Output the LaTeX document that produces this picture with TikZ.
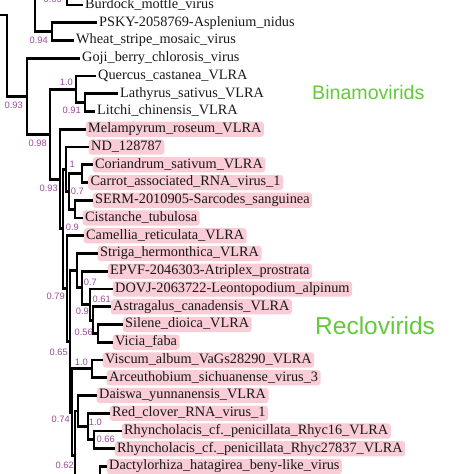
\documentclass[tikz,border=0pt]{standalone}
\usepackage{fontspec}
\setmainfont{Liberation Serif}
\newfontfamily\lsans{Liberation Sans}
\definecolor{pinkhl}{RGB}{249,204,214}
\definecolor{supcol}{RGB}{155,75,155}
\definecolor{grn}{RGB}{100,200,60}
\newcommand\mylf{\fontsize{14.3}{14.3}\selectfont}
\newcommand\mysf{\lsans\fontsize{9.3}{9.3}\selectfont}
\begin{document}
\begin{tikzpicture}[x=1pt,y=-1pt,
  br/.style={line width=2.9pt},
  lf/.style={anchor=west, font=\mylf, inner xsep=2.5pt, inner ysep=1pt, text height=10pt, text depth=3.2pt, text=black!90},
  hl/.style={lf, fill=pinkhl, rounded corners=3pt},
  sup/.style={anchor=east, font=\mysf, text=supcol, inner sep=0pt},
  grp/.style={anchor=west, text=grn, inner sep=0pt}]
\useasboundingbox (0,0) rectangle (474,474);
\clip (0,0) rectangle (474,474);
% leaves
\node[lf] (l0) at (82.5,5) {Burdock\_mottle\_virus};
\node[lf] (l1) at (96.5,22.75) {PSKY-2058769-Asplenium\_nidus};
\node[lf] (l2) at (73.5,40.5) {Wheat\_stripe\_mosaic\_virus};
\node[lf] (l3) at (79.5,58.25) {Goji\_berry\_chlorosis\_virus};
\node[lf] (l4) at (95.5,76) {Quercus\_castanea\_VLRA};
\node[lf] (l5) at (117.5,93.75) {Lathyrus\_sativus\_VLRA};
\node[lf] (l6) at (94.5,111.5) {Litchi\_chinensis\_VLRA};
\node[hl] (l7) at (85.5,129.25) {Melampyrum\_roseum\_VLRA};
\node[hl] (l8) at (88.5,147) {ND\_128787};
\node[hl] (l9) at (92.5,164.75) {Coriandrum\_sativum\_VLRA};
\node[hl] (l10) at (88,182.5) {Carrot\_associated\_RNA\_virus\_1};
\node[hl] (l11) at (92.5,200.25) {SERM-2010905-Sarcodes\_sanguinea};
\node[hl] (l12) at (82.5,218) {Cistanche\_tubulosa};
\node[hl] (l13) at (83.5,235.75) {Camellia\_reticulata\_VLRA};
\node[hl] (l14) at (97.5,253.5) {Striga\_hermonthica\_VLRA};
\node[hl] (l15) at (107.5,271.25) {EPVF-2046303-Atriplex\_prostrata};
\node[hl] (l16) at (112.5,289) {DOVJ-2063722-Leontopodium\_alpinum};
\node[hl] (l17) at (110.5,306.75) {Astragalus\_canadensis\_VLRA};
\node[hl] (l18) at (122.5,324.5) {Silene\_dioica\_VLRA};
\node[hl] (l19) at (112.5,342.25) {Vicia\_faba};
\node[hl] (l20) at (102.5,360) {Viscum\_album\_VaGs28290\_VLRA};
\node[hl] (l21) at (106.5,377.75) {Arceuthobium\_sichuanense\_virus\_3};
\node[hl] (l22) at (96.5,395.5) {Daiswa\_yunnanensis\_VLRA};
\node[hl] (l23) at (109.5,413.25) {Red\_clover\_RNA\_virus\_1};
\node[hl] (l24) at (121.5,431) {Rhyncholacis\_cf.\_penicillata\_Rhyc16\_VLRA};
\node[hl] (l25) at (114.5,448.75) {Rhyncholacis\_cf.\_penicillata\_Rhyc27837\_VLRA};
\node[hl] (l26) at (106.5,466.5) {Dactylorhiza\_hatagirea\_beny-like\_virus};
% internal nodes
\coordinate (r0) at (0,15);
\coordinate (r) at (7,15);
\coordinate (n27) at (27,96.2);
\coordinate (nC) at (50,134.2);
\coordinate (nA) at (76,89.3);
\coordinate (nB) at (85,102.6);
\coordinate (nD) at (60,179.1);
\coordinate (nE) at (63,228.9);
\coordinate (nF) at (66,169.2);
\coordinate (nF1) at (69,191.4);
\coordinate (nCC) at (82,173.6);
\coordinate (nSC) at (75,209.1);
\coordinate (nG) at (67,288.6);
\coordinate (nH) at (70,341.5);
\coordinate (nS) at (77,270.7);
\coordinate (nE2) at (82,287.9);
\coordinate (nDv) at (90,304.5);
\coordinate (nASV) at (93,320.1);
\coordinate (nSV) at (98,333.4);
\coordinate (nK) at (72,412.2);
\coordinate (nVA) at (92,368.9);
\coordinate (nL) at (75,455.5);
\coordinate (nDR) at (78,411);
\coordinate (nRC) at (88,426.6);
\coordinate (nRh) at (94,439.9);
\coordinate (nDa) at (100,500);
\coordinate (n35) at (35,-20);
\coordinate (n52) at (52,31.6);
\coordinate (n67) at (67,-6);
% branches
\draw[br] (r0) -- (r) |- (n27);
\draw[br] (n27) |- (l3.west);
\draw[br] (n27) |- (nC);
\draw[br] (nC) |- (nA);
\draw[br] (nC) |- (nD);
\draw[br] (nA) |- (l4.west);
\draw[br] (nA) |- (nB);
\draw[br] (nB) |- (l5.west);
\draw[br] (nB) |- (l6.west);
\draw[br] (nD) |- (l7.west);
\draw[br] (nD) |- (nE);
\draw[br] (nE) |- (nF);
\draw[br] (nE) |- (nG);
\draw[br] (nF) |- (l8.west);
\draw[br] (nF) |- (nF1);
\draw[br] (nF1) |- (nCC);
\draw[br] (nF1) |- (nSC);
\draw[br] (nCC) |- (l9.west);
\draw[br] (nCC) |- (l10.west);
\draw[br] (nSC) |- (l11.west);
\draw[br] (nSC) |- (l12.west);
\draw[br] (nG) |- (l13.west);
\draw[br] (nG) |- (nH);
\draw[br] (nH) |- (nS);
\draw[br] (nH) |- (nK);
\draw[br] (nS) |- (l14.west);
\draw[br] (nS) |- (nE2);
\draw[br] (nE2) |- (l15.west);
\draw[br] (nE2) |- (nDv);
\draw[br] (nDv) |- (l16.west);
\draw[br] (nDv) |- (nASV);
\draw[br] (nASV) |- (l17.west);
\draw[br] (nASV) |- (nSV);
\draw[br] (nSV) |- (l18.west);
\draw[br] (nSV) |- (l19.west);
\draw[br] (nK) |- (nVA);
\draw[br] (nK) |- (nL);
\draw[br] (nVA) |- (l20.west);
\draw[br] (nVA) |- (l21.west);
\draw[br] (nL) |- (nDR);
\draw[br] (nL) |- (nDa);
\draw[br] (nDR) |- (l22.west);
\draw[br] (nDR) |- (nRC);
\draw[br] (nRC) |- (l23.west);
\draw[br] (nRC) |- (nRh);
\draw[br] (nRh) |- (l24.west);
\draw[br] (nRh) |- (l25.west);
\draw[br] (nDa) |- (l26.west);
\draw[br] (n35) |- (n67);
\draw[br] (n35) |- (n52);
\draw[br] (n67) |- (l0.west);
\draw[br] (n52) |- (l1.west);
\draw[br] (n52) |- (l2.west);
% support values
\node[sup] (s0) at (62,-1) {0.66};
\node[sup] (s1) at (48,40) {0.94};
\node[sup] (s2) at (73,82) {1.0};
\node[sup] (s3) at (81,110) {0.91};
\node[sup] (s4) at (23,105) {0.93};
\node[sup] (s5) at (47,143) {0.98};
\node[sup] (s6) at (58,188) {0.93};
\node[sup] (s7) at (75,164) {1};
\node[sup] (s8) at (84,191) {0.7};
\node[sup] (s9) at (79,227) {0.9};
\node[sup] (s10) at (65,296) {0.79};
\node[sup] (s11) at (97,282) {0.7};
\node[sup] (s12) at (111,299) {0.61};
\node[sup] (s13) at (89,311) {0.9};
\node[sup] (s14) at (93,332) {0.56};
\node[sup] (s15) at (68,352) {0.65};
\node[sup] (s16) at (88,362) {1.0};
\node[sup] (s17) at (70,419) {0.74};
\node[sup] (s18) at (102,422) {1.0};
\node[sup] (s19) at (115,439) {0.66};
\node[sup] (s20) at (74,465) {0.62};
% group labels
\node[grp, font=\lsans\fontsize{19.6}{19.6}\selectfont] (g1) at (312,92) {Binamovirids};
\node[grp, font=\lsans\fontsize{24.5}{24.5}\selectfont] (g2) at (315,326) {Reclovirids};
\end{tikzpicture}
\end{document}
